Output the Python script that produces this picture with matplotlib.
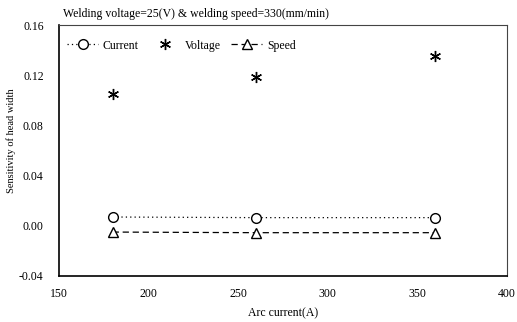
import matplotlib
matplotlib.use("Agg")
import matplotlib.pyplot as plt

arc_current = [180, 260, 360]
current_sens = [0.007, 0.0065, 0.0065]
voltage_sens = [0.105, 0.119, 0.135]
speed_sens = [-0.005, -0.0055, -0.0055]
xticks = [150, 200, 250, 300, 350, 400]
yticks = [-0.04, 0.00, 0.04, 0.08, 0.12, 0.16]

plt.rcParams['font.family'] = ['Liberation Serif', 'DejaVu Serif']

fig = plt.figure(figsize=(5.17, 3.22), dpi=100)
ax = fig.add_axes([0.114, 0.143, 0.866, 0.779])

ax.plot(arc_current, current_sens, linestyle=(0, (1, 2.5)), color='black', lw=0.9,
        marker='o', markersize=7, markerfacecolor='white', markeredgecolor='black',
        markeredgewidth=1.0, label='Current')
ax.plot(arc_current, voltage_sens, linestyle='none', color='black',
        marker=(6, 2, 0), markersize=8, markeredgewidth=1.0, label='Voltage')
ax.plot(arc_current, speed_sens, linestyle=(0, (5, 3)), color='black', lw=0.9,
        marker='^', markersize=7, markerfacecolor='white', markeredgecolor='black',
        markeredgewidth=1.0, label='Speed')

ax.set_xlim(150, 400)
ax.set_ylim(-0.04, 0.16)
ax.set_xticks(xticks)
ax.set_xticklabels([str(v) for v in xticks], fontsize=8.5)
ax.set_yticks(yticks)
ax.set_yticklabels([f"{v:.2f}" for v in yticks], fontsize=8.5)
ax.tick_params(axis='y', length=0, pad=11)
ax.tick_params(axis='x', length=0, pad=9)

for s in ['left', 'bottom']:
    ax.spines[s].set_linewidth(1.2)
for s in ['top', 'right']:
    ax.spines[s].set_linewidth(0.8)
    ax.spines[s].set_color('#444444')

ax.set_xlabel('Arc current(A)', fontsize=8.5)
ax.xaxis.set_label_coords(0.5, -0.125)
ax.set_ylabel('Sensitivity of head width', fontsize=7.5)
ax.yaxis.set_label_coords(-0.095, 0.54)
fig.text(0.122, 0.958, 'Welding voltage=25(V) & welding speed=330(mm/min)', fontsize=8.5,
         ha='left', va='center')

ax.legend(loc='upper left', ncol=3, frameon=False, fontsize=8.5, handlelength=2.6,
          columnspacing=0.9, handletextpad=0.4, bbox_to_anchor=(-0.005, 0.985))

fig.savefig('out.png', dpi=100)
